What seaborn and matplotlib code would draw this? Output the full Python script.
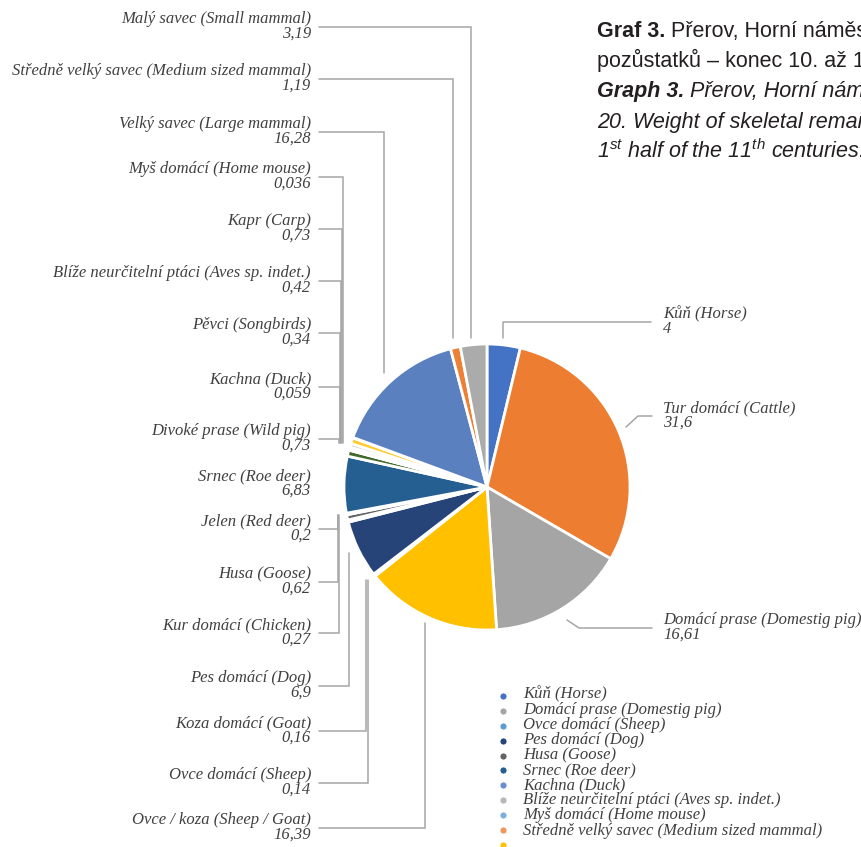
import matplotlib
matplotlib.use("Agg")
import matplotlib.pyplot as plt
import seaborn as sns

# ---- data: weight of skeletal remains per taxon (pie order, clockwise from top)
species = [
    "Kůň (Horse)",
    "Tur domácí (Cattle)",
    "Domácí prase (Domestig pig)",
    "Ovce / koza (Sheep / Goat)",
    "Ovce domácí (Sheep)",
    "Koza domácí (Goat)",
    "Pes domácí (Dog)",
    "Kur domácí (Chicken)",
    "Husa (Goose)",
    "Jelen (Red deer)",
    "Srnec (Roe deer)",
    "Divoké prase (Wild pig)",
    "Kachna (Duck)",
    "Pěvci (Songbirds)",
    "Blíže neurčitelní ptáci (Aves sp. indet.)",
    "Kapr (Carp)",
    "Myš domácí (Home mouse)",
    "Velký savec (Large mammal)",
    "Středně velký savec (Medium sized mammal)",
    "Malý savec (Small mammal)",
]
weights = [4, 31.6, 16.61, 16.39, 0.14, 0.16, 6.9, 0.27, 0.62, 0.2,
           6.83, 0.73, 0.059, 0.34, 0.42, 0.73, 0.036, 16.28, 1.19, 3.19]
slice_colors = ["#4472C4", "#ED7D31", "#A5A5A5", "#FFC000", "#5B9BD5",
                "#70AD47", "#264478", "#9E480E", "#636363", "#997300",
                "#255E91", "#43682B", "#698ED0", "#F1975A", "#B7B7B7",
                "#FFCD33", "#7CAFDD", "#5A80C0", "#EE8035", "#ABABAB"]

# entries listed in the visible legend column
legend_idx = [0, 2, 4, 6, 8, 10, 12, 14, 16, 18]
legend_colors = ["#4472C4", "#A5A5A5", "#5B9BD5", "#264478", "#636363",
                 "#255E91", "#698ED0", "#B7B7B7", "#7CAFDD", "#F1975A"]
legend_tail_color = "#FFC000"

# labels placed left of the pie (top to bottom) and right of it
left_idx = [19, 18, 17, 16, 15, 14, 13, 12, 11, 10, 9, 8, 7, 6, 5, 4, 3]
right_idx = [0, 1, 2]

# caption: (bold lead, rest, style)
caption = [
    ("Graf 3.", " Přerov, Horní náměstí č. 20. Hmotnost kosterních", "normal"),
    ("", "pozůstatků – konec 10. až 1. polovina 11. století.", "normal"),
    ("Graph 3.", " Přerov, Horní náměstí Square, No.", "italic"),
    ("", "20. Weight of skeletal remains – end of the 10th to the", "italic"),
    ("", r"1$^{\mathit{st}}$ half of the 11$^{\mathit{th}}$ centuries.", "italic"),
]


def fmt(v):
    return f"{v:g}".replace(".", ",")


sns.set_theme(style="white")
plt.rcParams["font.family"] = ["Liberation Serif", "DejaVu Serif"]
plt.rcParams.update({
    "mathtext.fontset": "custom",
    "mathtext.rm": "Liberation Sans",
    "mathtext.it": "Liberation Sans:italic",
    "mathtext.bf": "Liberation Sans:bold",
})

W, H = 862, 847
fig = plt.figure(figsize=(W / 100, H / 100), dpi=100)
ax = fig.add_axes([0, 0, 1, 1])


def Y(py):
    """pixel row (from top) -> data y"""
    return H - py


TXT = "#404040"
LINE = "#A6A6A6"
FS = 12
LINE_UNIT = 16.1          # matplotlib line height unit for this font size (px)
LSP = 14.8 / LINE_UNIT    # two-line data labels

# ---- pie
cx, cy, r = 487, 487, 143
ax.pie(weights, colors=slice_colors, startangle=90, counterclock=False,
       center=(cx, Y(cy)), radius=r, explode=[0.018] * len(weights),
       wedgeprops=dict(edgecolor="white", linewidth=2.0))
ax.set_xlim(0, W)
ax.set_ylim(0, H)
ax.set_aspect("equal")
ax.axis("off")

# ---- left labels with elbow leader lines
left_line_y = [27, 79, 132, 177, 229, 281, 333, 387, 439, None,
               529, 582, 633, 686, 731, 783, 828]
left_elbow_x = [471, 453, 384, 343, 342, 341, 340, 340, 339, None,
                338, 338, 339, 349, 366, 368, 425]
left_end_y = [338, 338, 373, 443, 443, 443, 443, 443, 443, None,
              515, 515, 515, 553, 580, 580, 623]
text_x_left = 311
for k, i in enumerate(left_idx):
    ly = left_line_y[k]
    if ly is None:
        val_base = 495
    else:
        val_base = ly + 11
        ex, ey = left_elbow_x[k], left_end_y[k]
        ax.plot([319, ex, ex], [Y(ly), Y(ly), Y(ey)], color=LINE, lw=1.1,
                solid_joinstyle="miter")
    ax.text(text_x_left, Y(val_base), f"{species[i]}\n{fmt(weights[i])}",
            ha="right", va="baseline", multialignment="right",
            linespacing=LSP, style="italic", fontsize=FS, color=TXT)

# ---- right labels
right_paths = [
    ([503, 503, 651], [338, 322, 322]),
    ([626, 638, 652], [427, 416, 416]),
    ([567, 579, 652], [620, 628, 628]),
]
right_line_y = [322, 416, 628]
for k, i in enumerate(right_idx):
    xs, ys = right_paths[k]
    ax.plot(xs, [Y(v) for v in ys], color=LINE, lw=1.1)
    ly = right_line_y[k]
    ax.text(663, Y(ly + 11), f"{species[i]}\n{fmt(weights[i])}",
            ha="left", va="baseline", multialignment="left",
            linespacing=LSP, style="italic", fontsize=FS, color=TXT)

# ---- legend column
row0, step = 696, 14.9
for k, c in enumerate(legend_colors):
    ax.scatter([503], [Y(row0 + k * step)], s=26, color=c,
               edgecolor="white", linewidth=0.6, zorder=5)
ax.scatter([503], [Y(row0 + len(legend_colors) * step)], s=26,
           color=legend_tail_color, edgecolor="white", linewidth=0.6, zorder=5)
last_base = row0 + 4.5 + (len(legend_idx) - 1) * step
ax.text(523, Y(last_base), "\n".join(species[i] for i in legend_idx),
        ha="left", va="baseline", linespacing=step / LINE_UNIT,
        style="italic", fontsize=FS, color=TXT)

# ---- caption
cap_base = [37, 67, 97, 128, 158]
CFS = 15.5
for (lead, rest, st), yb in zip(caption, cap_base):
    if lead:
        t1 = ax.text(597, Y(yb), lead, ha="left", va="baseline", style=st,
                     weight="bold", family="Liberation Sans", fontsize=CFS,
                     color="#231F20")
        ax.annotate(rest, xy=(1, 0), xycoords=t1, ha="left", va="bottom",
                    style=st, family="Liberation Sans", fontsize=CFS,
                    color="#231F20")
    else:
        ax.text(597, Y(yb), rest, ha="left", va="baseline", style=st,
                family="Liberation Sans", fontsize=CFS, color="#231F20")

fig.savefig("out.png", dpi=100)
